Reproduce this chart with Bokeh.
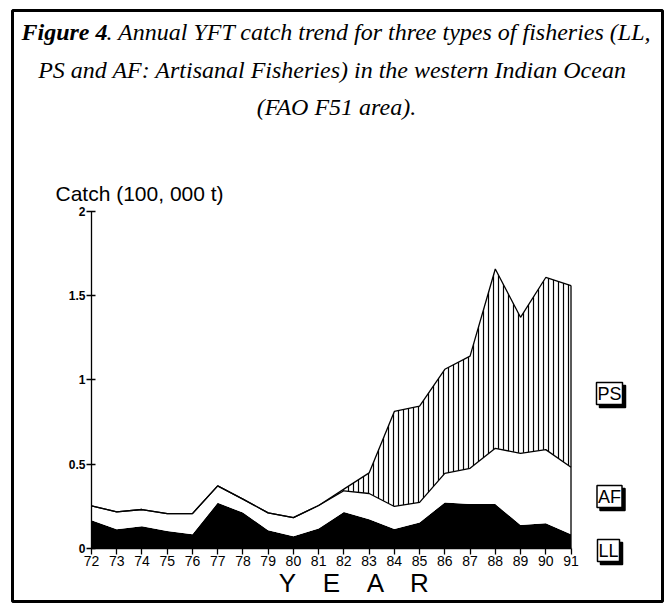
import numpy as np
from bokeh.plotting import figure
from bokeh.models import (ColumnDataSource, Range1d, FixedTicker, NumeralTickFormatter, Label)
from bokeh.embed import file_html
from bokeh.resources import INLINE

# ---------------- data (units of 100,000 t) ----------------
YEARS = list(range(1972, 1992))
YEAR_LABELS = [str(y)[2:] for y in YEARS]
LL = [0.168, 0.114, 0.132, 0.104, 0.084, 0.271, 0.213, 0.108, 0.073, 0.118,
      0.217, 0.174, 0.116, 0.154, 0.273, 0.263, 0.263, 0.140, 0.150, 0.085]
AF = [0.085, 0.103, 0.099, 0.103, 0.123, 0.100, 0.080, 0.103, 0.110, 0.137,
      0.125, 0.152, 0.133, 0.119, 0.172, 0.212, 0.331, 0.424, 0.436, 0.396]
PS = [0.0, 0.0, 0.0, 0.0, 0.0, 0.0, 0.0, 0.0, 0.0, 0.0,
      0.010, 0.122, 0.563, 0.571, 0.617, 0.665, 1.062, 0.806, 1.020, 1.077]
Y_TICKS = [0, 0.5, 1, 1.5, 2]
SERIES_NAMES = ["PS", "AF", "LL"]

TITLE_BOLD = "Figure 4"
TITLE_L1 = ". Annual YFT catch trend for three types of fisheries (LL,"
TITLE_L2 = "PS and AF: Artisanal Fisheries) in the western Indian Ocean"
TITLE_L3 = "(FAO F51 area)."
Y_LABEL = "Catch (100, 000 t)"
X_LABEL = "YEAR"

ll = np.array(LL)
af_top = ll + np.array(AF)
total = af_top + np.array(PS)
src = ColumnDataSource(dict(year=YEARS, ll=ll, af_top=af_top, total=total))

# ---------------- pixel <-> data helpers (layout only) ----------------
PX_X0, SX = 91.0, 25.237        # pixel x of 1972, px per year
PY_0, SY = 548.0, 168.75        # pixel y of 0, px per unit
def dx(px):
    return YEARS[0] + (px - PX_X0) / SX
def dy(py):
    return (PY_0 - py) / SY

W, H = 671, 603
FL, FR, FT, FB = 12, 662, 10, 601   # frame box in pixels
p = figure(width=W, height=H, title=None,
           x_range=Range1d(dx(FL), dx(FR)), y_range=Range1d(dy(FB), dy(FT)),
           output_backend="svg", toolbar_location=None,
           min_border_left=FL, min_border_right=W - FR,
           min_border_top=FT, min_border_bottom=H - FB)
p.outline_line_color = "black"
p.outline_line_width = 3
p.grid.visible = False
p.background_fill_color = "white"
p.border_fill_color = "white"

SANS = "Liberation Sans"
SERIF = "Liberation Serif"

# areas
p.varea(x="year", y1=0, y2="ll", source=src, fill_color="black")
p.varea(x="year", y1="ll", y2="af_top", source=src, fill_color="white")
p.varea(x="year", y1="af_top", y2="total", source=src, fill_color="white",
        hatch_pattern="|", hatch_color="black", hatch_scale=5, hatch_weight=1.2)
p.line(x="year", y="af_top", source=src, line_color="black", line_width=1.3)
p.line(x="year", y="total", source=src, line_color="black", line_width=1.3)
p.segment(x0=[YEARS[-1]], y0=[0], x1=[YEARS[-1]], y1=[total[-1]],
          line_color="black", line_width=1.3)

# axes
ya = p.yaxis[0]
ya.fixed_location = YEARS[0]
ya.bounds = (Y_TICKS[0], Y_TICKS[-1])
ya.ticker = FixedTicker(ticks=Y_TICKS)
ya.formatter = NumeralTickFormatter(format="0.[0]")
ya.minor_tick_line_color = None
ya.major_tick_in = 4
ya.major_tick_out = 5
ya.axis_line_width = 1.3
ya.major_tick_line_width = 1.3
ya.major_label_text_font = SANS
ya.major_label_text_font_size = "12px"
ya.major_label_text_font_style = "bold"
ya.major_label_text_color = "black"
ya.major_label_standoff = 1

xa = p.xaxis[0]
xa.fixed_location = 0
xa.bounds = (YEARS[0], YEARS[-1])
xa.ticker = FixedTicker(ticks=YEARS)
xa.major_label_overrides = {y: s for y, s in zip(YEARS, YEAR_LABELS)}
xa.minor_tick_line_color = None
xa.major_tick_in = 0
xa.major_tick_out = 6
xa.major_tick_line_width = 1.3
xa.axis_line_width = 1.3
xa.major_label_text_font = SANS
xa.major_label_text_font_size = "14px"
xa.major_label_text_color = "black"
xa.major_label_standoff = 1

def label(x, y, text, **kw):
    opts = dict(text_baseline="middle", text_align="left", text_color="black")
    opts.update(kw)
    p.add_layout(Label(x=dx(x), y=dy(y), text=text, **opts))

# title (three lines, first words bold)
label(21, 31, TITLE_BOLD, text_font=SERIF, text_font_style="bold italic", text_font_size="24px")
label(106, 31, TITLE_L1, text_font=SERIF, text_font_style="italic", text_font_size="24px")
label(332, 69, TITLE_L2, text_font=SERIF, text_font_style="italic", text_font_size="24px",
      text_align="center")
label(336, 106, TITLE_L3, text_font=SERIF, text_font_style="italic", text_font_size="24px",
      text_align="center")

# y label
label(55, 193, Y_LABEL, text_font=SANS, text_font_size="21px")

# x label: spaced letters
for ch, cx in zip(X_LABEL, [287, 331, 375, 419]):
    label(cx, 582, ch, text_font=SANS, text_font_size="26px", text_align="center")

# boxed series labels with drop shadow
for name, cx, cy in zip(SERIES_NAMES, [609, 609, 608], [393, 496, 550]):
    for off, col in [(3, "black"), (0, "white")]:
        p.add_layout(Label(x=dx(cx), y=dy(cy), x_offset=off, y_offset=-off, text=name,
                           text_font=SANS, text_font_size="18px",
                           text_baseline="middle", text_align="center",
                           text_color="black", background_fill_color=col,
                           border_line_color="black", border_line_width=1.5,
                           padding=1))

open("out.html", "w").write(file_html(p, INLINE))
